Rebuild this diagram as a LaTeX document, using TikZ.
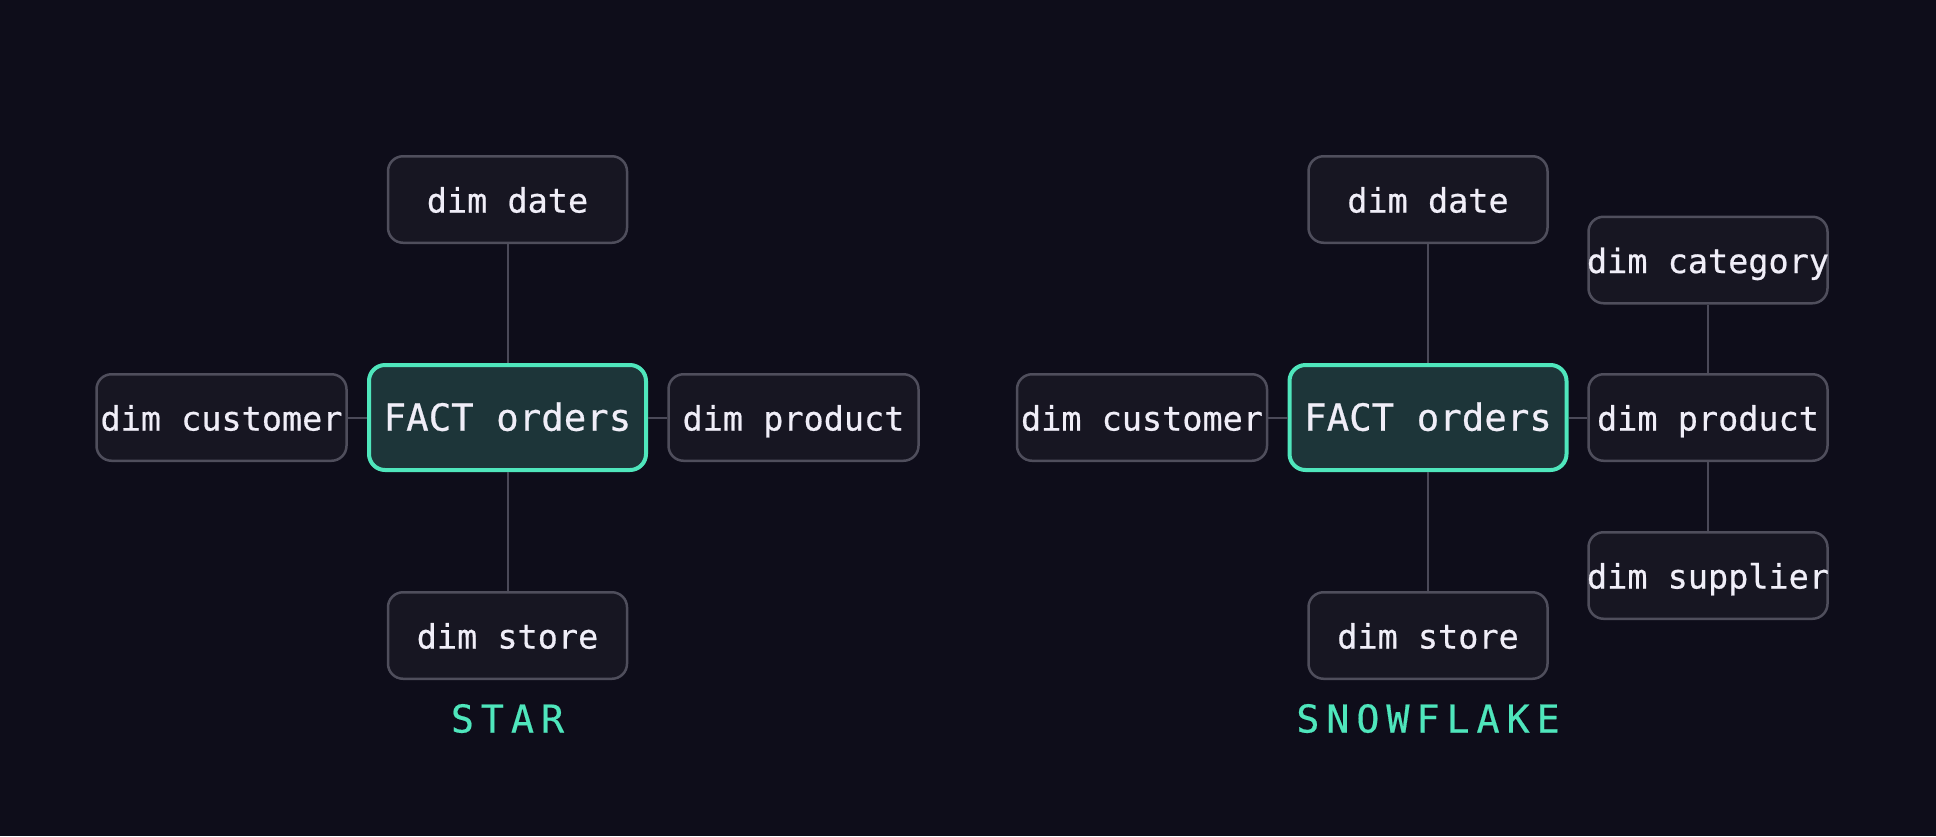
\documentclass[tikz,border=0pt]{standalone}
\usepackage{fontspec}
\setmonofont[FakeBold=0.6]{DejaVu Sans Mono}
\newfontfamily\tagfont[LetterSpace=18,FakeBold=0.4]{DejaVu Sans Mono}

\definecolor{bg}{HTML}{0E0D1A}
\definecolor{boxfill}{HTML}{171622}
\definecolor{boxedge}{HTML}{4F4E5C}
\definecolor{linkgray}{HTML}{4A4958}
\definecolor{factfill}{HTML}{1D3539}
\definecolor{factedge}{HTML}{4FE6BC}
\definecolor{ink}{HTML}{F0EEF8}

\begin{document}
\begin{tikzpicture}[x=1pt, y=1pt, node distance=143pt,
    every node/.style={font=\ttfamily\fontsize{16.75}{20}\selectfont, text=ink},
    dimbox/.style={draw=boxedge, line width=1.25pt, rounded corners=7.5pt, fill=boxfill,
      minimum width=119.5pt, minimum height=43.25pt, inner sep=0pt, text height=13pt, text depth=0pt},
    widebox/.style={dimbox, minimum width=125pt},
    factbox/.style={draw=factedge, line width=2pt, rounded corners=8pt, fill=factfill,
      minimum width=138.5pt, minimum height=52.5pt, inner sep=0pt, text height=13.2pt, text depth=0pt,
      font=\ttfamily\fontsize{18.7}{22}\selectfont},
    schemetag/.style={font=\tagfont\fontsize{19.2}{22}\selectfont, text=factedge, text height=14pt, text depth=0pt, inner sep=0pt},
    link/.style={draw=linkgray, line width=1pt}]
    \fill[bg] (0,0) rectangle (968,-418);
    \useasboundingbox (0,0) rectangle (968,-418);

    % star schema
    \node[factbox] (fact1) at (253.75,-208.75) {FACT orders};
    \node[dimbox, above of=fact1, node distance=109pt] (date1) {dim date};
    \node[dimbox, below of=fact1, node distance=109pt] (store1) {dim store};
    \node[widebox, left of=fact1] (cust1) {dim customer};
    \node[widebox, right of=fact1] (prod1) {dim product};
    \node[schemetag, below of=store1, node distance=41.5pt] (star) {STAR};
    \draw[link] (date1) -- (fact1);
    \draw[link] (store1) -- (fact1);
    \draw[link] (cust1) -- (fact1);
    \draw[link] (prod1) -- (fact1);

    % snowflake schema
    \node[factbox] (fact2) at (714,-208.75) {FACT orders};
    \node[dimbox, above of=fact2, node distance=109pt] (date2) {dim date};
    \node[dimbox, below of=fact2, node distance=109pt] (store2) {dim store};
    \node[widebox, left of=fact2] (cust2) {dim customer};
    \node[dimbox, right of=fact2, node distance=140pt] (prod2) {dim product};
    \node[dimbox, above of=prod2, node distance=78.75pt] (cat2) {\makebox[0pt]{dim category}};
    \node[dimbox, below of=prod2, node distance=79pt] (supp2) {\makebox[0pt]{dim supplier}};
    \node[schemetag, below of=store2, node distance=41.5pt] (snow) {SNOWFLAKE};
    \draw[link] (date2) -- (fact2);
    \draw[link] (store2) -- (fact2);
    \draw[link] (cust2) -- (fact2);
    \draw[link] (prod2) -- (fact2);
    \draw[link] (cat2) -- (prod2);
    \draw[link] (supp2) -- (prod2);
\end{tikzpicture}
\end{document}
